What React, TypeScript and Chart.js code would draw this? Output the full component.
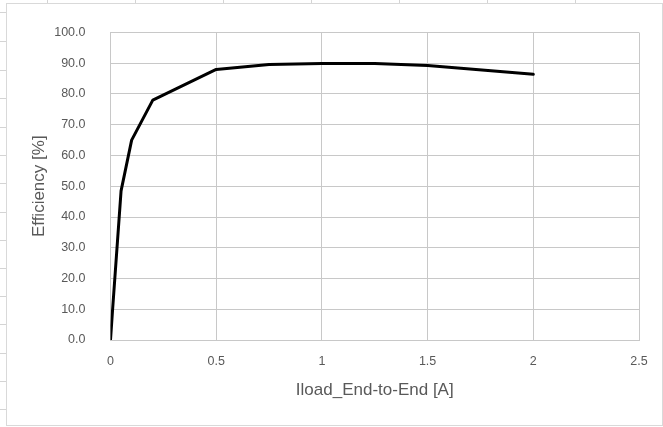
import React, { useEffect, useRef } from "react";
import { Chart, registerables } from "chart.js";

Chart.register(...registerables);

// ---- data ----
const currentA = [0, 0.01, 0.05, 0.1, 0.2, 0.5, 0.75, 1, 1.25, 1.5, 2];
const efficiencyPct = [0, 10, 48.5, 65, 78, 88, 89.6, 89.9, 89.9, 89.3, 86.4];
const xTickValues = [0, 0.5, 1, 1.5, 2, 2.5];
const xTickLabels = ["0", "0.5", "1", "1.5", "2", "2.5"];
const yTickValues = [0, 10, 20, 30, 40, 50, 60, 70, 80, 90, 100];
const yTickLabels = ["0.0", "10.0", "20.0", "30.0", "40.0", "50.0", "60.0", "70.0", "80.0", "90.0", "100.0"];
const xTitle = "Iload_End-to-End [A]";
const yTitle = "Efficiency [%]";

// ---- spreadsheet decoration (cell lines around the chart frame) ----
const sheetColumnX = [47, 135, 223, 311, 399, 487, 575];
const sheetRowY = [12, 41, 70, 98, 127, 155, 183, 212, 240, 268, 296, 324, 353, 381, 409];

const FONT = "'Liberation Sans', Arial, sans-serif";
const TEXT = "#595959";
const GRID = "#c8c8c8";

export default function App() {
  const ref = useRef<HTMLCanvasElement | null>(null);

  useEffect(() => {
    if (!ref.current) return;
    const chart = new Chart(ref.current, {
      type: "line",
      data: {
        datasets: [
          {
            data: currentA.map((x, i) => ({ x, y: efficiencyPct[i] })),
            borderColor: "#000000",
            borderWidth: 3,
            pointRadius: 0,
            tension: 0,
            fill: false,
            borderJoinStyle: "round",
            borderCapStyle: "round",
          },
        ],
      },
      options: {
        responsive: false,
        animation: false,
        devicePixelRatio: 1,
        layout: { padding: { left: 7, top: 23.5, right: 24, bottom: 0 } },
        plugins: { legend: { display: false }, tooltip: { enabled: false } },
        scales: {
          x: {
            type: "linear",
            min: 0,
            max: 2.5,
            afterBuildTicks: (s: any) => {
              s.ticks = xTickValues.map((v) => ({ value: v }));
            },
            afterFit: (s: any) => {
              s.height = 87;
            },
            ticks: {
              callback: (_v: any, i: number) => xTickLabels[i],
              color: TEXT,
              font: { family: FONT, size: 12.5 },
              padding: 14,
              maxRotation: 0,
              autoSkip: false,
            },
            grid: { color: GRID, lineWidth: 1, drawTicks: false },
            border: { color: GRID, width: 1 },
            title: {
              display: true,
              text: xTitle,
              color: TEXT,
              font: { family: FONT, size: 17 },
              padding: { top: 0, bottom: 26.8 },
            },
          },
          y: {
            type: "linear",
            min: 0,
            max: 100,
            afterBuildTicks: (s: any) => {
              s.ticks = yTickValues.map((v) => ({ value: v }));
            },
            afterFit: (s: any) => {
              s.width = 103.5;
            },
            ticks: {
              callback: (_v: any, i: number) => yTickLabels[i],
              color: TEXT,
              font: { family: FONT, size: 12.5 },
              padding: 25,
              autoSkip: false,
            },
            grid: { color: GRID, lineWidth: 1, drawTicks: false },
            border: { color: GRID, width: 1 },
            title: {
              display: true,
              text: yTitle,
              color: TEXT,
              font: { family: FONT, size: 17 },
              padding: { top: 21.8, bottom: 0 },
            },
          },
        },
      },
    } as any);
    return () => chart.destroy();
  }, []);

  return (
    <div
      style={{
        position: "absolute",
        left: 0,
        top: 0,
        width: 663,
        height: 427,
        overflow: "hidden",
        background: "#ffffff",
      }}
    >
      {sheetColumnX.map((x) => (
        <div
          key={"c" + x}
          style={{ position: "absolute", left: x, top: 0, width: 1, height: 3, background: "#d4d4d4" }}
        />
      ))}
      {sheetRowY.map((y) => (
        <div
          key={"r" + y}
          style={{ position: "absolute", left: 0, top: y, width: 6, height: 1, background: "#d4d4d4" }}
        />
      ))}
      <div
        style={{
          position: "absolute",
          left: 6,
          top: 3,
          width: 655,
          height: 421,
          border: "1px solid #d9d9d9",
          background: "#ffffff",
        }}
      />
      <canvas
        ref={ref}
        width={663}
        height={427}
        style={{ position: "absolute", left: 0, top: 0, width: 663, height: 427 }}
      />
    </div>
  );
}
